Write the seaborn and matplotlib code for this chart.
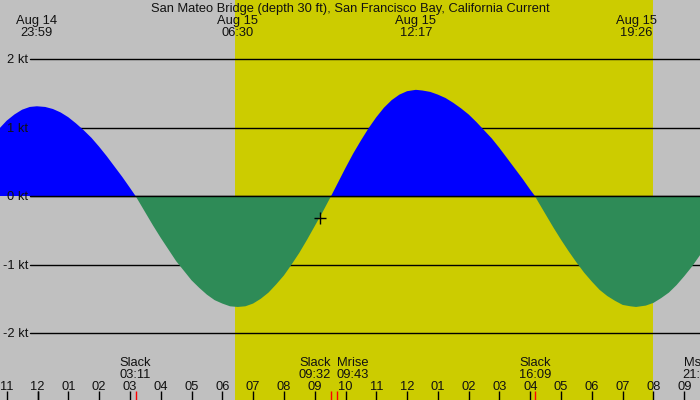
import matplotlib
matplotlib.use("Agg")
import matplotlib.pyplot as plt
import seaborn as sns
import numpy as np

TITLE = "San Mateo Bridge (depth 30 ft), San Francisco Bay, California Current"

# hours after midnight Aug 15 and current speed in knots
hours = [-1.5, -1.25, -1.0, -0.75, -0.5, -0.25, -0.02, 0.25, 0.5, 0.75,
         1.0, 1.25, 1.5, 1.75, 2.0, 2.25, 2.5, 2.75, 3.0, 3.183,
         3.25, 3.5, 3.75, 4.0, 4.25, 4.5, 4.75, 5.0, 5.25, 5.5,
         5.75, 6.0, 6.25, 6.5, 6.75, 7.0, 7.25, 7.5, 7.75, 8.0,
         8.25, 8.5, 8.75, 9.0, 9.25, 9.533, 9.75, 10.0, 10.25, 10.5,
         10.75, 11.0, 11.25, 11.5, 11.75, 12.0, 12.283, 12.5, 12.75, 13.0,
         13.25, 13.5, 13.75, 14.0, 14.25, 14.5, 14.75, 15.0, 15.25, 15.5,
         15.75, 16.0, 16.15, 16.25, 16.5, 16.75, 17.0, 17.25, 17.5, 17.75,
         18.0, 18.25, 18.5, 18.75, 19.0, 19.25, 19.433, 19.75, 20.0, 20.25,
         20.5, 20.75, 21.0, 21.25, 21.5, 21.75, 22.0]
knots = [0.85, 0.98, 1.10, 1.19, 1.26, 1.30, 1.31, 1.30, 1.27, 1.22,
         1.15, 1.06, 0.96, 0.85, 0.72, 0.58, 0.43, 0.28, 0.12, 0.0,
         -0.05, -0.24, -0.43, -0.61, -0.78, -0.95, -1.09, -1.23, -1.34, -1.44,
         -1.52, -1.57, -1.61, -1.62, -1.61, -1.57, -1.50, -1.41, -1.29, -1.16,
         -1.00, -0.83, -0.64, -0.44, -0.24, 0.0, 0.19, 0.41, 0.62, 0.81,
         0.99, 1.15, 1.29, 1.40, 1.48, 1.53, 1.55, 1.54, 1.52, 1.48,
         1.43, 1.36, 1.28, 1.19, 1.08, 0.96, 0.84, 0.70, 0.55, 0.40,
         0.25, 0.09, 0.0, -0.08, -0.27, -0.46, -0.64, -0.81, -0.97, -1.12,
         -1.25, -1.37, -1.46, -1.53, -1.59, -1.61, -1.62, -1.60, -1.56, -1.49,
         -1.41, -1.30, -1.17, -1.03, -0.87, -0.70, -0.52]

# max flood / max ebb labels along the top
peak_hours = [-0.02, 6.5, 12.283, 19.433]
peak_days = ["Aug 14", "Aug 15", "Aug 15", "Aug 15"]
peak_times = ["23:59", "06:30", "12:17", "19:26"]

# events along the bottom
event_hours = [3.183, 9.533, 9.717, 16.15, 21.45]
event_names = ["Slack", "Slack", "Mrise", "Slack", "Mset"]
event_times = ["03:11", "09:32", "09:43", "16:09", "21:27"]
event_align = ["center", "right", "left", "center", "center"]
red_ticks = [3.183, 9.533, 9.717, 16.15]

hour_ticks = list(range(-1, 22))
hour_labels = ["11", "12", "01", "02", "03", "04", "05", "06", "07", "08", "09", "10",
               "11", "12", "01", "02", "03", "04", "05", "06", "07", "08", "09"]

kt_levels = [2, 1, 0, -1, -2]
kt_labels = ["2 kt", "1 kt", "0 kt", "-1 kt", "-2 kt"]

sunrise, sunset = 6.42, 20.0
now_hour, now_knots = 9.17, -0.32

GREY = "#c0c0c0"
YELLOW = "#cccc00"
FLOOD = "#0000ff"
EBB = "#2e8b57"
INK = "#111111"
PX_PER_KT = 68.5

sns.set_style("white")
plt.rcParams["font.family"] = ["Liberation Sans", "DejaVu Sans"]
FS = 9.3


def row(px):
    # text baseline given in pixels from the top of the picture
    return 1 - px / 400


fig = plt.figure(figsize=(7, 4), dpi=100)
fig.patch.set_facecolor(GREY)
ax = fig.add_axes([0, 0, 1, 1])
ax.set_facecolor(GREY)
ax.set_xlim(-1.218, 21.51)
ax.set_ylim(-204 / PX_PER_KT, 196 / PX_PER_KT)
ax.axis("off")

ax.axvspan(sunrise, sunset, color=YELLOW, lw=0, zorder=0)

for lv in kt_levels:
    ax.axhline(lv, xmin=30 / 700, xmax=1, color="black", lw=1, zorder=1)

h = np.array(hours)
v = np.array(knots)
ax.fill_between(h, 0, v, where=v >= 0, interpolate=True, color=FLOOD, lw=0, zorder=2)
ax.fill_between(h, 0, v, where=v <= 0, interpolate=True, color=EBB, lw=0, zorder=2)
ax.axhline(0, xmin=30 / 700, xmax=1, color="black", lw=1, zorder=3)

ax.plot([now_hour], [now_knots], marker="+", color="black", ms=9, mew=1, zorder=4)

xt = ax.get_xaxis_transform()
yt = ax.get_yaxis_transform()
for lv, lab in zip(kt_levels, kt_labels):
    ax.text(28 / 700, lv - 4.3 / PX_PER_KT, lab, transform=yt, ha="right", va="baseline",
            fontsize=FS, color=INK, zorder=5)

fig.text(0.5, row(12), TITLE, ha="center", va="baseline", fontsize=FS, color=INK)
for ph, d, t in zip(peak_hours, peak_days, peak_times):
    ax.text(ph, row(24), d, transform=xt, ha="center", va="baseline", fontsize=FS, color=INK)
    ax.text(ph, row(36), t, transform=xt, ha="center", va="baseline", fontsize=FS, color=INK)

for eh, n, t, al in zip(event_hours, event_names, event_times, event_align):
    ax.text(eh, row(366.3), n, transform=xt, ha=al, va="baseline", fontsize=FS, color=INK)
    ax.text(eh, row(378), t, transform=xt, ha=al, va="baseline", fontsize=FS, color=INK)

for hh, lab in zip(hour_ticks, hour_labels):
    ax.text(hh, row(390), lab, transform=xt, ha="center", va="baseline", fontsize=FS, color=INK)

sns.rugplot(x=hour_ticks, height=9 / 400, color="black", lw=1, ax=ax, expand_margins=False, zorder=5)
sns.rugplot(x=[0], height=9 / 400, color="black", lw=3, ax=ax, expand_margins=False, zorder=5)
sns.rugplot(x=red_ticks, height=9 / 400, color="red", lw=1, ax=ax, expand_margins=False, zorder=6)

fig.savefig("out.png", dpi=100, facecolor=GREY)
